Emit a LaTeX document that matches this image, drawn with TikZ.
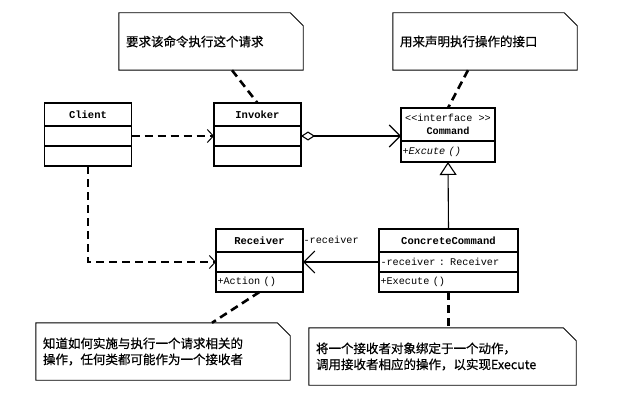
\documentclass[tikz,border=0pt]{standalone}
\usepackage{fontspec}
\newfontfamily\cnfont[FakeBold=0.6]{Noto Sans CJK SC}
\newfontfamily\umlfont{Liberation Mono}
\usetikzlibrary{positioning, arrows.meta, calc}
\tikzset{
  umlhead/.style={
    draw,
    line width=1.3pt,
    outer sep=0pt,
    fill=white,
    minimum width=#1,
    minimum height=23,
    inner sep=1pt,
    font=\umlfont\fontsize{10.5}{12}\selectfont\bfseries
  },
  umlpart/.style={
    draw,
    line width=1.3pt,
    outer sep=0pt,
    fill=white,
    minimum width=#1,
    minimum height=20,
    inner xsep=1.5pt,
    inner ysep=1pt,
    align=left,
    font=\umlfont\fontsize{10.2}{12}\selectfont
  },
  umlnote/.style={
    minimum height=57,
    inner xsep=7pt,
    inner ysep=0pt,
    align=left,
    font=\cnfont\fontsize{12.5}{16}\selectfont
  },
  notebox/.style={draw, line width=0.9pt, fill=white},
  notelink/.style={line width=2.6pt, dash pattern=on 8pt off 5pt},
  dep/.style={
    line width=2.4pt,
    dash pattern=on 8pt off 5pt,
    -{Straight Barb[length=6pt, width=13pt, line width=1pt]}
  },
  assoc/.style={line width=1.1pt, -{Straight Barb[length=11pt, width=22pt]}}
}
% note outline with the folded corner
\newcommand{\notefold}[1]{%
  \path[notebox] (#1.south west) -- (#1.north west)
    -- ([xshift=-13pt]#1.north east) -- ([yshift=-13pt]#1.north east)
    -- (#1.south east) -- cycle;
}

\begin{document}
\begin{tikzpicture}[x=1pt, y=-1pt]
  \useasboundingbox (0,0) rectangle (629,404);

  % classes
  \node[umlhead=87] (client) at (88,114.5) {Client};
  \node[umlpart=87, below=0pt of client] (client-a) {};
  \node[umlpart=87, below=0pt of client-a] (client-m) {};

  \node[umlhead=87] (invoker) at (257.5,114.5) {Invoker};
  \node[umlpart=87, below=0pt of invoker] (invoker-a) {};
  \node[umlpart=87, below=0pt of invoker-a] (invoker-m) {};

  \node[umlhead=94, minimum height=33, align=center, font=\umlfont\fontsize{10.2}{12.5}\selectfont]
    (command) at (448,124.5) {<<interface >>\\\textbf{Command}};
  \node[umlpart=94, minimum height=21, text width=91pt, below=0pt of command]
    (command-m) {\itshape +Excute ()};

  \node[umlhead=87] (receiver) at (259.5,240.5) {Receiver};
  \node[umlpart=87, below=0pt of receiver] (receiver-a) {};
  \node[umlpart=87, text width=84pt, below=0pt of receiver-a] (receiver-m) {+Action ()};

  \node[umlhead=139] (concrete) at (448.5,240.5) {ConcreteCommand};
  \node[umlpart=139, text width=136pt, below=0pt of concrete] (concrete-a) {-receiver : Receiver};
  \node[umlpart=139, text width=136pt, below=0pt of concrete-a] (concrete-m) {+Execute ()};

  % notes
  \node[umlnote, text width=170pt] (note1) at (211,41.5) {};
  \notefold{note1}
  \node[umlnote, text width=170pt] at (note1) {要求该命令执行这个请求};

  \node[umlnote, text width=170pt] (note2) at (485,41.5) {};
  \notefold{note2}
  \node[umlnote, text width=170pt] at (note2) {用来声明执行操作的接口};

  \node[umlnote, text width=240pt] (note3) at (163,351.5) {};
  \notefold{note3}
  \node[umlnote, text width=240pt] at (note3) {知道如何实施与执行一个请求相关的\\操作，任何类都可能作为一个接收者};

  \node[umlnote, text width=253pt] (note4) at (442.5,356.5) {};
  \notefold{note4}
  \node[umlnote, text width=253pt] at (note4) {将一个接收者对象绑定于一个动作，\\调用接收者相应的操作，以实现Execute};

  % connectors
  \draw[dep] (client-a.east) -- (invoker-a.west);
  \draw[dep] (client-m.south) |- (receiver-a.west);
  \draw[line width=1.1pt, {Diamond[open, length=14pt, width=9pt]}-{Straight Barb[length=11pt, width=22pt]}]
    (invoker-a.east) -- (invoker-a.east -| command.west);
  \draw[line width=1.1pt, -{Triangle[open, length=13pt, width=17pt, fill=white]}]
    (concrete.north) -- (command-m.south);
  \draw[assoc] (concrete-a.west) -- node[at end, anchor=west, yshift=22pt,
    font=\umlfont\fontsize{10.2}{12}\selectfont, inner sep=0pt] {-receiver} (receiver-a.east);

  \draw[notelink] ([xshift=21pt]note1.south) -- (invoker.north);
  \draw[notelink] ([xshift=-17pt]note2.south) -- (command.north);
  \draw[notelink] (receiver-m.south) -- ([xshift=49pt]note3.north);
  \draw[notelink] (concrete-m.south) -- (concrete-m.south |- note4.north);
\end{tikzpicture}
\end{document}
